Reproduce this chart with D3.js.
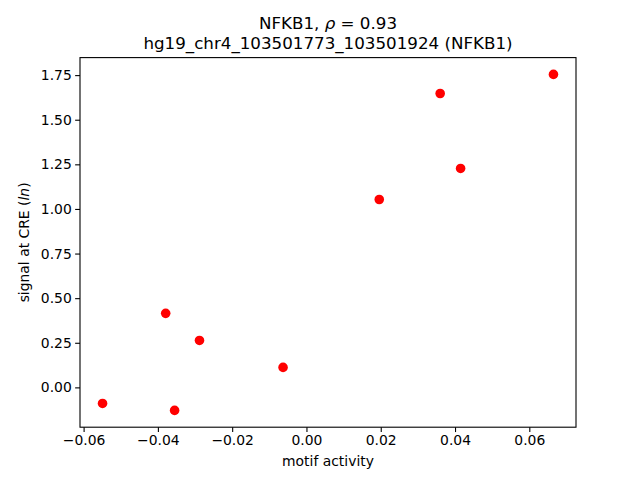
<!DOCTYPE html>
<html>
<head>
<meta charset="utf-8">
<script src="https://cdn.jsdelivr.net/npm/d3@7"></script>
<style>
html,body{margin:0;padding:0;background:#fff;}
svg{display:block;font-family:"DejaVu Sans",sans-serif;}
</style>
</head>
<body>
<svg id="chart" width="640" height="480"></svg>
<script>
const xValues = [-0.0549, -0.0355, -0.0379, -0.0288, -0.0063, 0.0196, 0.0360, 0.0415, 0.0665];
const yValues = [-0.090, -0.129, 0.415, 0.263, 0.112, 1.053, 1.647, 1.227, 1.754];
const xTicks = [-0.06, -0.04, -0.02, 0.00, 0.02, 0.04, 0.06];
const yTicks = [0.00, 0.25, 0.50, 0.75, 1.00, 1.25, 1.50, 1.75];
const titleLine1 = "NFKB1, ";
const titleLine2 = "hg19_chr4_103501773_103501924 (NFKB1)";
const xLabel = "motif activity";

const svg = d3.select("#chart");
const L = 80, R = 576, T = 57.6, B = 427.2;

function padded(vals){
  const lo = d3.min(vals), hi = d3.max(vals), m = (hi - lo) * 0.05;
  return [lo - m, hi + m];
}
const x = d3.scaleLinear().domain(padded(xValues)).range([L, R]);
const y = d3.scaleLinear().domain(padded(yValues)).range([B, T]);

const fmt2 = d => d.toFixed(2).replace("-", "\u2212");

const xAxis = svg.append("g").attr("transform", `translate(0,${B})`)
  .call(d3.axisBottom(x).tickValues(xTicks).tickFormat(fmt2).tickSize(4.86).tickPadding(3.4));
const yAxis = svg.append("g").attr("transform", `translate(${L},0)`)
  .call(d3.axisLeft(y).tickValues(yTicks).tickFormat(fmt2).tickSize(4.86).tickPadding(3.4));
[xAxis, yAxis].forEach(g => {
  g.select(".domain").remove();
  g.selectAll("line").attr("stroke", "#000").attr("stroke-width", 1.1);
  g.selectAll("text").attr("font-size", "13.9px").attr("fill", "#000").attr("font-family", "DejaVu Sans");
});

svg.append("rect").attr("x", L).attr("y", T).attr("width", R - L).attr("height", B - T)
  .attr("fill", "none").attr("stroke", "#000").attr("stroke-width", 1.1);

svg.append("g").selectAll("circle").data(xValues.map((v, i) => [v, yValues[i]])).join("circle")
  .attr("cx", d => x(d[0])).attr("cy", d => y(d[1])).attr("r", 4.8).attr("fill", "#ff0000");

// title
const t1 = svg.append("text").attr("x", (L + R) / 2).attr("y", 29.3).attr("text-anchor", "middle")
  .attr("font-size", "16.7px").attr("fill", "#000");
t1.append("tspan").text(titleLine1);
t1.append("tspan").attr("font-style", "italic").text("\u03c1");
t1.append("tspan").text(" = 0.93");
svg.append("text").attr("x", (L + R) / 2).attr("y", 49.3).attr("text-anchor", "middle")
  .attr("font-size", "16.7px").attr("fill", "#000").text(titleLine2);

svg.append("text").attr("x", (L + R) / 2).attr("y", 466).attr("text-anchor", "middle")
  .attr("font-size", "13.9px").attr("fill", "#000").text(xLabel);

const yl = svg.append("text").attr("transform", `translate(29,${(T + B) / 2}) rotate(-90)`)
  .attr("text-anchor", "middle").attr("font-size", "13.9px").attr("fill", "#000");
yl.append("tspan").text("signal at CRE (");
yl.append("tspan").attr("font-style", "italic").text("ln");
yl.append("tspan").text(")");
</script>
</body>
</html>
